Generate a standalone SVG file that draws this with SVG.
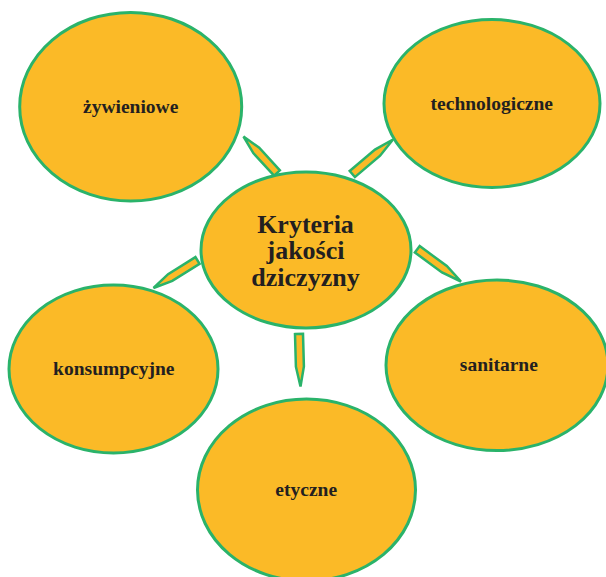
<svg xmlns="http://www.w3.org/2000/svg" width="606" height="577" viewBox="0 0 606 577">
<style>
.node{fill:#FBBA27;stroke:#2AB36A;stroke-width:3}
.arr{fill:#FBBA27;stroke:#2AB36A;stroke-width:2.5;stroke-linejoin:miter}
.lbl{font-family:"Liberation Serif","Times New Roman",serif;font-weight:bold;font-size:19.5px;fill:#231F20;text-anchor:middle}
.main{font-family:"Liberation Serif","Times New Roman",serif;font-weight:bold;font-size:26px;fill:#231F20;text-anchor:middle}
</style>
<rect width="606" height="577" fill="#FFFFFF"/>
<g id="connectors">
<polygon class="arr" points="279.9,170.3 259.2,147.7 243.5,136.5 253.3,153.1 274.1,175.7"/>
<polygon class="arr" points="349.7,171.0 375.0,149.6 393,139.5 380.1,155.7 354.9,177.1"/>
<polygon class="arr" points="195.4,257.1 168.1,274.2 153.5,288 172.3,280.9 199.6,263.9"/>
<polygon class="arr" points="419.7,246.1 446.8,266.0 461,281.5 442.0,272.5 414.9,252.5"/>
<polygon class="arr" points="295,334.1 303,333.9 303.9,366.4 300.5,386.5 295.9,366.7"/>
</g>
<g id="node-zywieniowe">
<ellipse class="node" cx="130.7" cy="106.7" rx="111" ry="94.3"/>
<text class="lbl" x="130.7" y="113.3">żywieniowe</text>
</g>
<g id="node-technologiczne">
<ellipse class="node" cx="492" cy="103.5" rx="108" ry="84"/>
<text class="lbl" x="491.8" y="110">technologiczne</text>
</g>
<g id="node-center">
<ellipse class="node" cx="306" cy="250" rx="105" ry="78"/>
<text class="main" x="305.5" y="232.7">Kryteria</text>
<text class="main" x="305.5" y="259.3">jakości</text>
<text class="main" x="305.5" y="286">dziczyzny</text>
</g>
<g id="node-konsumpcyjne">
<ellipse class="node" cx="113.5" cy="369" rx="104.5" ry="84"/>
<text class="lbl" x="113.8" y="375.3">konsumpcyjne</text>
</g>
<g id="node-sanitarne">
<ellipse class="node" cx="497" cy="365.3" rx="111" ry="85.3"/>
<text class="lbl" x="498.8" y="371">sanitarne</text>
</g>
<g id="node-etyczne">
<ellipse class="node" cx="306.5" cy="490" rx="109" ry="91"/>
<text class="lbl" x="306.2" y="496">etyczne</text>
</g>
</svg>
